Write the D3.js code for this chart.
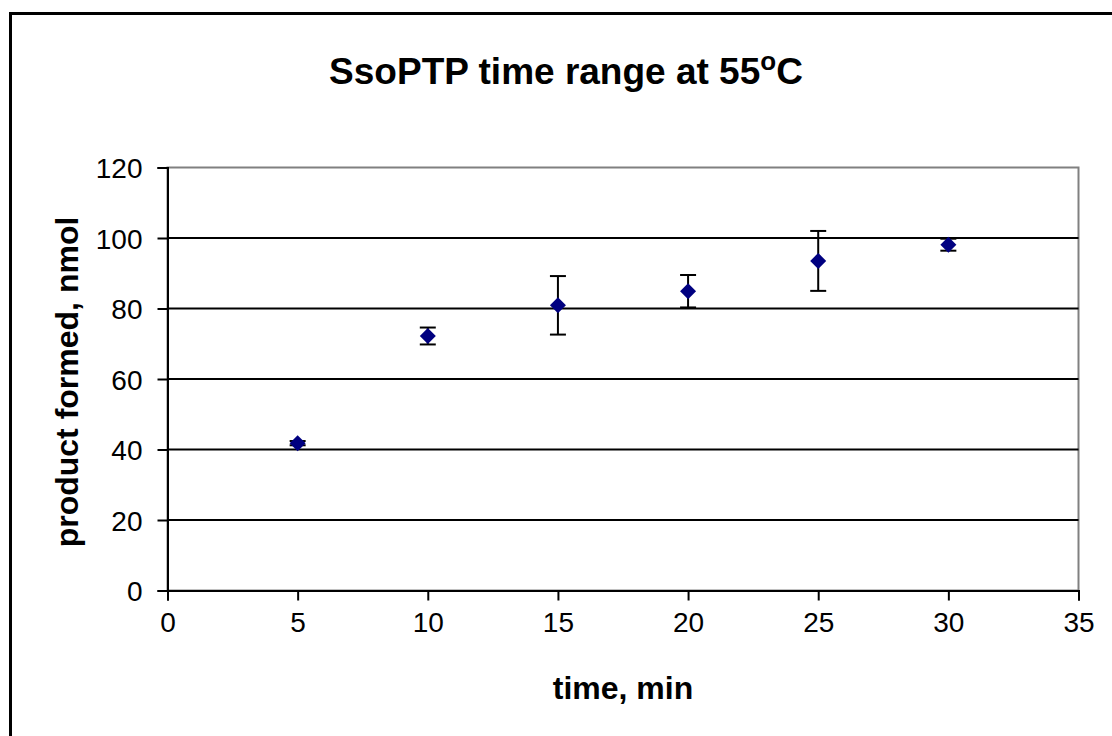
<!DOCTYPE html>
<html>
<head>
<meta charset="utf-8">
<script src="https://cdn.jsdelivr.net/npm/d3@7"></script>
<style>
  body { margin: 0; background: #fff; }
  text { font-family: "Liberation Sans", Arial, sans-serif; }
</style>
</head>
<body>
<svg id="chart"></svg>
<script>
// Data
const times = [5, 10, 15, 20, 25, 30];
const product = [41.8, 72.2, 80.9, 84.9, 93.5, 98.1];
const errors = [0.6, 2.4, 8.3, 4.6, 8.5, 1.7];
const xTicks = [0, 5, 10, 15, 20, 25, 30, 35];
const yTicks = [0, 20, 40, 60, 80, 100, 120];

// Dimensions
const Width = 1112;
const Height = 736;
const plot = { left: 167.5, right: 1078.5, top: 167.5, bottom: 590.5 };

const svg = d3.select("#chart")
  .attr("width", Width)
  .attr("height", Height);

// Outer frame (right and bottom edges fall outside the picture)
svg.append("rect")
  .attr("x", 10.5).attr("y", 13.5)
  .attr("width", 1200).attr("height", 900)
  .attr("fill", "#fff")
  .attr("stroke", "#000")
  .attr("stroke-width", 3);

// Scales
const xScale = d3.scaleLinear().domain([0, 35]).range([plot.left, plot.right]);
const yScale = d3.scaleLinear().domain([0, 120]).range([plot.bottom, plot.top]);

// Plot area border (grey top/right)
svg.append("rect")
  .attr("x", plot.left).attr("y", plot.top)
  .attr("width", plot.right - plot.left)
  .attr("height", plot.bottom - plot.top)
  .attr("fill", "none")
  .attr("stroke", "#808080")
  .attr("stroke-width", 2);

// Gridlines
svg.append("g")
  .selectAll("line")
  .data(yTicks.filter(d => d > 0 && d < 120))
  .enter()
  .append("line")
  .attr("x1", plot.left).attr("x2", plot.right)
  .attr("y1", d => yScale(d)).attr("y2", d => yScale(d))
  .attr("stroke", "#000")
  .attr("stroke-width", 2);

// Axes
const xAxis = svg.append("g")
  .attr("transform", `translate(0,${plot.bottom})`)
  .call(d3.axisBottom(xScale).tickValues(xTicks).tickSize(10).tickPadding(12));

const yAxis = svg.append("g")
  .attr("transform", `translate(${plot.left},0)`)
  .call(d3.axisLeft(yScale).tickValues(yTicks).tickSize(10).tickPadding(15));

[xAxis, yAxis].forEach(a => {
  a.select(".domain").attr("stroke", "#000").attr("stroke-width", 2);
  a.selectAll(".tick line").attr("stroke", "#000").attr("stroke-width", 2);
  a.selectAll(".tick text")
    .attr("fill", "#000")
    .style("font-size", "28px")
    .style("font-family", "'Liberation Sans', Arial, sans-serif");
});
xAxis.selectAll(".tick text").attr("dy", "0.71em");
yAxis.selectAll(".tick text").attr("dy", "0.36em");

// Error bars
const bars = svg.append("g")
  .selectAll("g")
  .data(times)
  .enter()
  .append("g");

bars.append("line")
  .attr("x1", d => xScale(d)).attr("x2", d => xScale(d))
  .attr("y1", (d, i) => yScale(product[i] + errors[i]))
  .attr("y2", (d, i) => yScale(product[i] - errors[i]))
  .attr("stroke", "#000").attr("stroke-width", 2);

[1, -1].forEach(s => {
  bars.append("line")
    .attr("x1", d => xScale(d) - 8).attr("x2", d => xScale(d) + 8)
    .attr("y1", (d, i) => yScale(product[i] + s * errors[i]))
    .attr("y2", (d, i) => yScale(product[i] + s * errors[i]))
    .attr("stroke", "#000").attr("stroke-width", 2);
});

// Diamond markers
bars.append("path")
  .attr("d", "M0,-8L8,0L0,8L-8,0Z")
  .attr("transform", (d, i) => `translate(${xScale(d)},${yScale(product[i])})`)
  .attr("fill", "#000080");

// Title
const title = svg.append("text")
  .attr("x", 566).attr("y", 84)
  .attr("text-anchor", "middle")
  .style("font-size", "37px")
  .style("font-weight", "bold")
  .text("SsoPTP time range at 55");
title.append("tspan")
  .attr("dy", "-14")
  .style("font-size", "26px")
  .text("o");
title.append("tspan")
  .attr("dy", "14")
  .text("C");

// Axis titles
svg.append("text")
  .attr("x", (plot.left + plot.right) / 2).attr("y", 699)
  .attr("text-anchor", "middle")
  .style("font-size", "32px")
  .style("font-weight", "bold")
  .text("time, min");

svg.append("text")
  .attr("transform", `translate(78,${(plot.top + plot.bottom) / 2 + 3}) rotate(-90)`)
  .attr("text-anchor", "middle")
  .style("font-size", "32px")
  .style("font-weight", "bold")
  .text("product formed, nmol");
</script>
</body>
</html>
